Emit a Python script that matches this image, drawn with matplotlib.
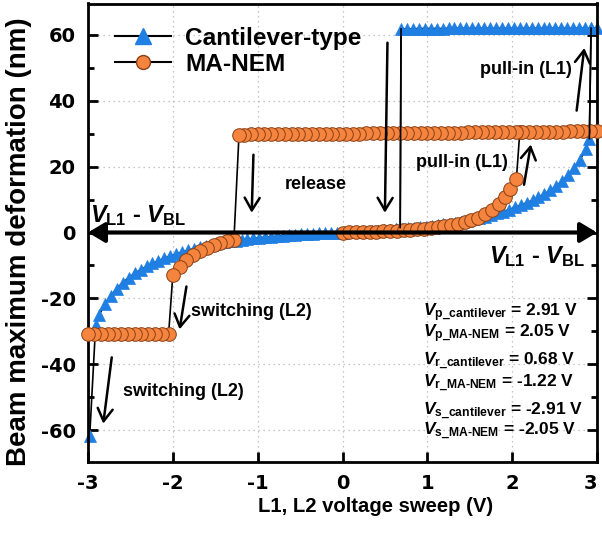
import matplotlib
matplotlib.use("Agg")
import matplotlib.pyplot as plt
import numpy as np
from matplotlib.lines import Line2D
from matplotlib.ticker import MultipleLocator

# cantilever-type: forward sweep 0 -> pull-in
cant_up_x = [0.0, 0.07, 0.14, 0.21, 0.28, 0.35, 0.42, 0.49, 0.56, 0.63, 0.70,
             0.77, 0.84, 0.91, 0.98, 1.05, 1.12, 1.19, 1.26, 1.33, 1.40, 1.47,
             1.54, 1.61, 1.68, 1.75, 1.82, 1.89, 1.96, 2.03, 2.10, 2.17, 2.24,
             2.31, 2.38, 2.45, 2.52, 2.59, 2.66, 2.73, 2.80, 2.87, 2.91]
cant_up_y = [0.0, 0.03, 0.1, 0.15, 0.25, 0.35, 0.5, 0.65, 0.8, 0.95, 1.1,
             1.25, 1.45, 1.6, 1.8, 2.0, 2.2, 2.45, 2.7, 3.0, 3.3, 3.6,
             4.0, 4.4, 4.8, 5.3, 5.8, 6.3, 6.9, 7.6, 8.3, 9.0, 9.8,
             10.7, 11.7, 12.8, 14.1, 15.6, 17.4, 19.5, 22.1, 25.4, 28.5]
# pulled-in state, sweep back to release
cant_top_x = [2.93, 3.0, 2.93, 2.86, 2.79, 2.72, 2.65, 2.58, 2.51, 2.44, 2.37,
              2.30, 2.23, 2.16, 2.09, 2.02, 1.95, 1.88, 1.81, 1.74, 1.67, 1.60,
              1.53, 1.46, 1.39, 1.32, 1.25, 1.18, 1.11, 1.04, 0.97, 0.90, 0.83,
              0.76, 0.69]
cant_top_y = [62.0, 62.0, 62.0, 62.0, 62.0, 62.0, 62.0, 62.0, 62.0, 62.0, 62.0,
              62.0, 62.0, 62.0, 62.0, 62.0, 62.0, 62.0, 62.0, 62.0, 62.0, 62.0,
              62.0, 62.0, 62.0, 62.0, 62.0, 61.9, 61.9, 61.9, 61.9, 61.9, 61.8,
              61.8, 61.8]
# released, sweep down to L2 switching
cant_down_x = [0.68, 0.63, 0.56, 0.49, 0.42, 0.35, 0.28, 0.21, 0.14, 0.07, 0.0,
               -0.07, -0.14, -0.21, -0.28, -0.35, -0.42, -0.49, -0.56, -0.63,
               -0.70, -0.77, -0.84, -0.91, -0.98, -1.05, -1.12, -1.19, -1.26,
               -1.33, -1.40, -1.47, -1.54, -1.61, -1.68, -1.75, -1.82, -1.89,
               -1.96, -2.03, -2.10, -2.17, -2.24, -2.31, -2.38, -2.45, -2.52,
               -2.59, -2.66, -2.73, -2.80, -2.87, -2.91, -2.98]
cant_down_y = [1.5, 0.95, 0.8, 0.65, 0.5, 0.35, 0.25, 0.15, 0.1, 0.03, 0.0,
               -0.03, -0.1, -0.15, -0.25, -0.35, -0.45, -0.6, -0.7, -0.85,
               -1.0, -1.15, -1.3, -1.45, -1.6, -1.8, -2.0, -2.2, -2.45,
               -2.7, -3.0, -3.3, -3.65, -4.0, -4.4, -4.9, -5.4, -5.9,
               -6.5, -7.1, -7.8, -8.6, -9.4, -10.3, -11.3, -12.4, -13.7,
               -15.2, -17.0, -19.2, -21.8, -25.0, -28.2, -61.8]

# MA-NEM
ma_up_x = [0.0, 0.08, 0.16, 0.24, 0.32, 0.40, 0.48, 0.56, 0.64, 0.72, 0.80,
           0.88, 0.96, 1.04, 1.12, 1.20, 1.28, 1.36, 1.44, 1.52, 1.60, 1.68,
           1.76, 1.84, 1.92, 1.98, 2.05]
ma_up_y = [0.0, 0.05, 0.1, 0.15, 0.2, 0.25, 0.35, 0.45, 0.55, 0.7, 0.85,
           1.0, 1.2, 1.4, 1.65, 1.9, 2.2, 2.6, 3.1, 3.7, 4.5, 5.5,
           6.8, 8.5, 10.9, 13.2, 16.3]
ma_top_x = [2.09, 3.0, 2.92, 2.84, 2.76, 2.68, 2.60, 2.52, 2.44, 2.36, 2.28,
            2.20, 2.12, 2.04, 1.96, 1.88, 1.80, 1.72, 1.64, 1.56, 1.48,
            1.40, 1.32, 1.24, 1.16, 1.08, 1.00, 0.92, 0.84, 0.76, 0.68,
            0.60, 0.52, 0.44, 0.36, 0.28, 0.20, 0.12, 0.04, -0.04, -0.12,
            -0.20, -0.28, -0.36, -0.44, -0.52, -0.60, -0.68, -0.76, -0.84,
            -0.92, -1.00, -1.08, -1.16, -1.22]
ma_top_y = [30.5, 30.7, 30.7, 30.7, 30.7, 30.7, 30.6, 30.6, 30.6, 30.6, 30.6,
            30.5, 30.5, 30.5, 30.5, 30.5, 30.4, 30.4, 30.4, 30.4, 30.4,
            30.3, 30.3, 30.3, 30.3, 30.3, 30.2, 30.2, 30.2, 30.2, 30.2,
            30.1, 30.1, 30.1, 30.1, 30.1, 30.0, 30.0, 30.0, 30.0, 30.0,
            30.0, 30.0, 30.0, 30.0, 30.0, 29.9, 29.9, 29.9, 29.9,
            29.9, 29.8, 29.8, 29.7, 29.7]
ma_down_x = [-1.28, -1.36, -1.44, -1.52, -1.60, -1.68, -1.76, -1.84, -1.92,
             -2.0, -2.05, -2.13, -2.21, -2.29, -2.37, -2.45, -2.53, -2.61,
             -2.69, -2.77, -2.85, -2.93, -3.0]
ma_down_y = [-2.3, -2.7, -3.2, -3.9, -4.7, -5.6, -6.8, -8.4, -10.4,
             -12.8, -30.9, -30.9, -30.9, -30.9, -30.9, -30.9, -30.9, -30.9,
             -30.9, -30.9, -30.9, -30.9, -30.9]

blue = "#1f7fe3"
orange = "#f5843f"
orange_edge = "#8a4015"

plt.rcParams["font.family"] = ["Liberation Sans", "DejaVu Sans"]
plt.rcParams["font.weight"] = "bold"
plt.rcParams["axes.labelweight"] = "bold"
plt.rcParams["axes.unicode_minus"] = False
plt.rcParams["mathtext.fontset"] = "custom"
plt.rcParams["mathtext.it"] = "Liberation Sans:bold:italic"
plt.rcParams["mathtext.rm"] = "Liberation Sans:bold"
plt.rcParams["mathtext.bf"] = "Liberation Sans:bold"

fig = plt.figure(figsize=(6.02, 5.45), dpi=100)
ax = fig.add_axes([88 / 602, 1 - 461.5 / 545, 509 / 602, 458 / 545])

cant_x = cant_up_x + cant_top_x + cant_down_x
cant_y = cant_up_y + cant_top_y + cant_down_y
ma_x = ma_up_x + ma_top_x + ma_down_x
ma_y = ma_up_y + ma_top_y + ma_down_y

ax.plot(cant_x, cant_y, color="black", lw=1.2, marker="^", ms=9,
        mfc=blue, mec=blue, mew=0.5, zorder=2, clip_on=False)
ax.plot(ma_x, ma_y, color="black", lw=1.2, marker="o", ms=9.8,
        mfc=orange, mec=orange_edge, mew=0.7, zorder=3, clip_on=False)
# pull-in / release jumps of the cantilever drawn over the MA-NEM row
ax.plot(cant_up_x[-1:] + cant_top_x[:1], cant_up_y[-1:] + cant_top_y[:1],
        color="black", lw=1.2, zorder=3.5)
ax.plot(cant_top_x[-1:] + cant_down_x[:1], cant_top_y[-1:] + cant_down_y[:1],
        color="black", lw=1.2, zorder=3.5)

# V_L1 - V_BL axis arrow
ax.annotate("", xy=(-3, 0), xytext=(3, 0), annotation_clip=False, zorder=5,
            arrowprops=dict(arrowstyle="<|-|>,head_length=0.5,head_width=0.3",
                            mutation_scale=20, lw=3, color="black",
                            shrinkA=0, shrinkB=0))

arrows = [((0.53, 57.6), (0.50, 6.0)),
          ((-1.05, 23.6), (-1.07, 6.0)),
          ((2.76, 37.0), (2.85, 56.0)),
          ((2.14, 14.5), (2.22, 26.7)),
          ((-1.84, -16.4), (-1.92, -29.4)),
          ((-2.72, -37.9), (-2.82, -58.0))]
for start, end in arrows:
    ax.annotate("", xy=end, xytext=start, zorder=6,
                arrowprops=dict(arrowstyle="->,head_length=0.45,head_width=0.27",
                                mutation_scale=20, lw=1.8, color="black",
                                shrinkA=0, shrinkB=0))

ax.text(2.16, 49.4, "pull-in (L1)", fontsize=13, ha="center", va="center")
ax.text(1.41, 21.2, "pull-in (L1)", fontsize=13, ha="center", va="center")
ax.text(-0.31, 14.5, "release", fontsize=13, ha="center", va="center")
ax.text(-1.07, -24.0, "switching (L2)", fontsize=13, ha="center", va="center")
ax.text(-1.88, -48.3, "switching (L2)", fontsize=13, ha="center", va="center")

vlabel = r"$V_{\mathbf{L1}}$ - $V_{\mathbf{BL}}$"
ax.text(-2.98, 3.3, vlabel, fontsize=17, ha="left", va="baseline", zorder=6)
ax.text(2.86, -9.2, vlabel, fontsize=17, ha="right", va="baseline", zorder=6)

info = [(-25.5, "$V_{\\mathbf{p\\_cantilever}}$ = 2.91 V"),
        (-31.9, "$V_{\\mathbf{p\\_MA\u2010NEM}}$ = 2.05 V"),
        (-40.1, "$V_{\\mathbf{r\\_cantilever}}$ = 0.68 V"),
        (-46.8, "$V_{\\mathbf{r\\_MA\u2010NEM}}$ = -1.22 V"),
        (-55.3, "$V_{\\mathbf{s\\_cantilever}}$ = -2.91 V"),
        (-61.6, "$V_{\\mathbf{s\\_MA\u2010NEM}}$ = -2.05 V")]
for yy, s in info:
    ax.text(0.95, yy, s, fontsize=12.5, ha="left", va="baseline")

ax.set_xlim(-3, 3)
ax.set_ylim(-69.5, 69.5)
ax.set_xticks([-3, -2, -1, 0, 1, 2, 3])
ax.set_yticks([-60, -40, -20, 0, 20, 40, 60])
ax.yaxis.set_minor_locator(MultipleLocator(10))
ax.tick_params(which="major", direction="in", length=7, width=2,
               right=True, top=False, labelsize=14, pad=9)
ax.tick_params(which="minor", direction="in", length=4, width=2,
               right=True, top=False)
for lab in ax.get_xticklabels() + ax.get_yticklabels():
    lab.set_fontfamily("DejaVu Sans")
    lab.set_fontweight("bold")
# keep the last x label inside the figure edge
ax.get_xticklabels()[-1].set_horizontalalignment("right")
for sp in ax.spines.values():
    sp.set_linewidth(2)
ax.grid(True, which="major", linestyle=(0, (1, 3)), color="#b4b4b4", lw=0.9)

ax.set_xlabel("L1, L2 voltage sweep (V)", fontsize=14.6, fontweight="bold")
ax.set_ylabel("Beam maximum deformation (nm)", fontsize=20, fontweight="bold")
ax.xaxis.set_label_coords(0.564, -0.0775)
ax.yaxis.set_label_coords(-0.11, 0.48)

handles = [Line2D([], [], color="black", lw=1.5, marker="^", ms=11,
                  mfc=blue, mec=blue),
           Line2D([], [], color="black", lw=1.5, marker="o", ms=10,
                  mfc=orange, mec=orange_edge)]
ax.legend(handles, ["Cantilever-type", "MA-NEM"], loc="upper left",
          bbox_to_anchor=(0.053, 0.949), frameon=False, borderpad=0,
          borderaxespad=0, handlelength=2.3, handletextpad=0.57,
          labelspacing=0.12, numpoints=1, prop=dict(size=17.6, weight="bold"))

plt.savefig("out.png", dpi=100)
